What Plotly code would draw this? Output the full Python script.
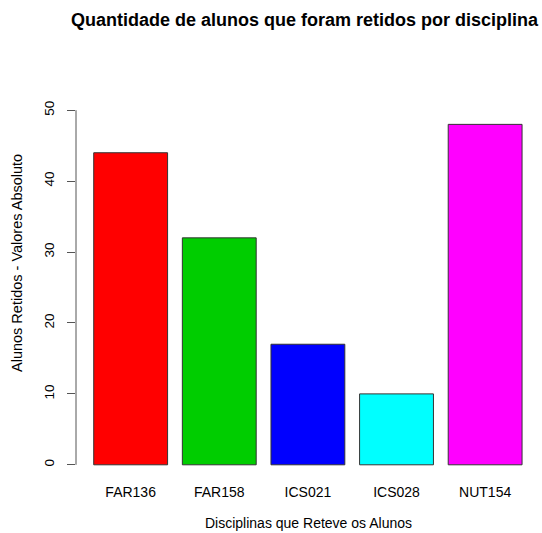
import plotly.graph_objects as go

disciplinas = ["FAR136", "FAR158", "ICS021", "ICS028", "NUT154"]
retidos = [44, 32, 17, 10, 48]
cores = ["#FF0000", "#00CD00", "#0000FF", "#00FFFF", "#FF00FF"]
y_ticks = [0, 10, 20, 30, 40, 50]

# R barplot positions: width 1, space 0.2
posicoes = [0.7 + 1.2 * i for i in range(len(disciplinas))]

fig = go.Figure(go.Bar(
    x=posicoes, y=retidos, width=1.0,
    marker=dict(color=cores, line=dict(color="#333333", width=1)),
))

font = "Liberation Sans, Arial, Helvetica, sans-serif"

fig.update_layout(
    width=542, height=533,
    margin=dict(l=76, r=0, t=96, b=54),
    paper_bgcolor="white", plot_bgcolor="white",
    showlegend=False,
    font=dict(family=font, size=12, color="black"),
    xaxis=dict(range=[-0.04, 6.27], tickvals=posicoes, ticktext=disciplinas,
               showgrid=False, zeroline=False, showline=False, ticks="",
               tickfont=dict(size=14), ticklabelstandoff=3),
    yaxis=dict(range=[-2, 52], tickvals=y_ticks, showgrid=False, zeroline=False,
               showline=False, ticks="outside", ticklen=8, tickcolor="#555555",
               tickangle=-90, tickfont=dict(size=13.5), ticklabelstandoff=8),
    shapes=[dict(type="line", xref="paper", yref="y", x0=0, x1=0, y0=0, y1=50,
                 line=dict(color="#555555", width=1))],
    annotations=[
        dict(text="<b>Quantidade de alunos que foram retidos por disciplina</b>",
             xref="paper", yref="paper", x=(305 - 76) / 466, y=1, yshift=76,
             showarrow=False, font=dict(size=18, family=font), xanchor="center", yanchor="middle"),
        dict(text="Disciplinas que Reteve os Alunos", xref="paper", yref="paper",
             x=(308 - 76) / 466, y=0, yshift=-44, showarrow=False,
             font=dict(size=14, family=font), xanchor="center", yanchor="middle"),
        dict(text="Alunos Retidos - Valores Absoluto", xref="paper", yref="paper",
             x=0, xshift=-59, y=(479 - 263) / 383, textangle=-90, showarrow=False,
             font=dict(size=14.5, family=font), xanchor="center", yanchor="middle"),
    ],
)

fig.write_html("out.html", post_script="document.body.style.margin='0';",
               config={"displayModeBar": False})
